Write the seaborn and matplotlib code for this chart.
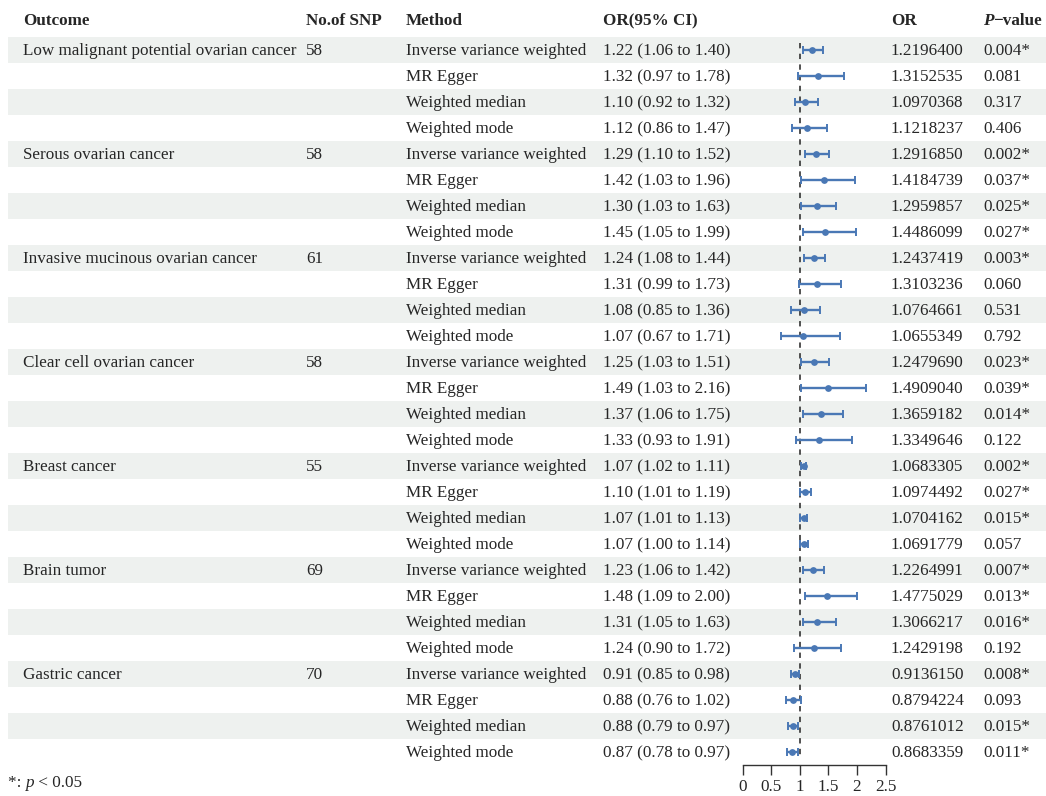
import matplotlib
matplotlib.use("Agg")
import matplotlib.pyplot as plt
import seaborn as sns
import pandas as pd

# ---- data -------------------------------------------------------------
outcomes = [
    "Low malignant potential ovarian cancer",
    "Serous ovarian cancer",
    "Invasive mucinous ovarian cancer",
    "Clear cell ovarian cancer",
    "Breast cancer",
    "Brain tumor",
    "Gastric cancer",
]
n_snp = [58, 58, 61, 58, 55, 69, 70]
methods = ["Inverse variance weighted", "MR Egger", "Weighted median", "Weighted mode"]

or_value = [
    1.2196400, 1.3152535, 1.0970368, 1.1218237,
    1.2916850, 1.4184739, 1.2959857, 1.4486099,
    1.2437419, 1.3103236, 1.0764661, 1.0655349,
    1.2479690, 1.4909040, 1.3659182, 1.3349646,
    1.0683305, 1.0974492, 1.0704162, 1.0691779,
    1.2264991, 1.4775029, 1.3066217, 1.2429198,
    0.9136150, 0.8794224, 0.8761012, 0.8683359,
]
ci_low = [
    1.06, 0.97, 0.92, 0.86,
    1.10, 1.03, 1.03, 1.05,
    1.08, 0.99, 0.85, 0.67,
    1.03, 1.03, 1.06, 0.93,
    1.02, 1.01, 1.01, 1.00,
    1.06, 1.09, 1.05, 0.90,
    0.85, 0.76, 0.79, 0.78,
]
ci_high = [
    1.40, 1.78, 1.32, 1.47,
    1.52, 1.96, 1.63, 1.99,
    1.44, 1.73, 1.36, 1.71,
    1.51, 2.16, 1.75, 1.91,
    1.11, 1.19, 1.13, 1.14,
    1.42, 2.00, 1.63, 1.72,
    0.98, 1.02, 0.97, 0.97,
]
p_value = [
    "0.004*", "0.081", "0.317", "0.406",
    "0.002*", "0.037*", "0.025*", "0.027*",
    "0.003*", "0.060", "0.531", "0.792",
    "0.023*", "0.039*", "0.014*", "0.122",
    "0.002*", "0.027*", "0.015*", "0.057",
    "0.007*", "0.013*", "0.016*", "0.192",
    "0.008*", "0.093", "0.015*", "0.011*",
]
x_ticks = [0, 0.5, 1, 1.5, 2, 2.5]
x_tick_labels = ["0", "0.5", "1", "1.5", "2", "2.5"]

# ---- long table --------------------------------------------------------
rows = []
k = 0
for outcome, snp in zip(outcomes, n_snp):
    for j, method in enumerate(methods):
        rows.append({
            "row": k,
            "Outcome": outcome if j == 0 else "",
            "SNP": str(snp) if j == 0 else "",
            "Method": method,
            "OR": or_value[k],
            "low": ci_low[k],
            "high": ci_high[k],
            "CI": f"{or_value[k]:.2f} ({ci_low[k]:.2f} to {ci_high[k]:.2f})",
            "ORtxt": f"{or_value[k]:.7f}",
            "P": p_value[k],
        })
        k += 1
df = pd.DataFrame(rows)

# ---- style -------------------------------------------------------------
sns.set_theme(style="white")
plt.rcParams["font.family"] = ["Liberation Serif", "DejaVu Serif"]
FS = 12.3
TXT = "#262626"
BLUE = "#4a78b5"
BAND = "#eef1ef"

W, H = 1046, 796
fig = plt.figure(figsize=(W / 100, H / 100), dpi=100)

# table layer in pixel units
tab = fig.add_axes([0, 0, 1, 1])
tab.set_xlim(0, W)
tab.set_ylim(H, 0)
tab.axis("off")

row_y0, row_h = 50, 26
col_x = {"Outcome": 23, "SNP": 306, "Method": 406, "CI": 603, "ORtxt": 891, "P": 983}

for _, r in df.iterrows():
    y = row_y0 + row_h * r["row"]
    if r["row"] % 2 == 0:
        tab.add_patch(plt.Rectangle((8, y - row_h / 2), W - 8, row_h,
                                    color=BAND, lw=0, zorder=0))
    for c, x in col_x.items():
        tab.text(x, y + 1, r[c], fontsize=FS, color=TXT, va="center", ha="left")

hy = 21
heads = {"Outcome": "Outcome", "SNP": "No.of SNP", "Method": "Method",
         "CI": "OR(95% CI)", "ORtxt": "OR"}
for c, label in heads.items():
    tab.text(col_x[c], hy, label, fontsize=FS, color=TXT, weight="bold",
             va="center", ha="left")
tp = tab.text(col_x["P"], hy, "P", fontsize=FS, color=TXT, weight="bold",
              style="italic", va="center", ha="left")
tab.annotate("\u2212value", xy=(1, 0), xycoords=tp, fontsize=FS, color=TXT,
             weight="bold", va="bottom", ha="left")

# footnote
t1 = tab.text(8, 783, "*: ", fontsize=FS, color=TXT, va="center", ha="left")
t2 = tab.annotate("p", xy=(1, 0), xycoords=t1, fontsize=FS, color=TXT,
                  style="italic", va="bottom", ha="left")
tab.annotate(" < 0.05", xy=(1, 0), xycoords=t2, fontsize=FS, color=TXT,
             va="bottom", ha="left")

# ---- forest panel ------------------------------------------------------
x0_px, x25_px = 742.5, 885.5
top_px, bot_px = 37, 765
ax = fig.add_axes([x0_px / W, 1 - bot_px / H, (x25_px - x0_px) / W, (bot_px - top_px) / H])
ax.patch.set_alpha(0)
ax.set_xlim(0, 2.5)
ax.set_ylim(len(df) - 0.5, -0.5)

ax.vlines(1, -0.27, len(df) - 0.8, colors="#222222", linestyles=(0, (3.5, 3.5)), lw=1.1, zorder=1)
ax.errorbar(df["OR"], df["row"],
            xerr=[df["OR"] - df["low"], df["high"] - df["OR"]],
            fmt="none", ecolor=BLUE, elinewidth=1.7, capsize=2.6, capthick=1.4, zorder=2)
sns.scatterplot(data=df, x="OR", y="row", ax=ax, color=BLUE, s=24,
                edgecolor=BLUE, linewidth=0, zorder=3, legend=False)

for s in ["top", "right", "left"]:
    ax.spines[s].set_visible(False)
ax.spines["bottom"].set_color("#333333")
ax.spines["bottom"].set_linewidth(1.0)
ax.set_yticks([])
ax.set_xticks(x_ticks)
ax.set_xticklabels(x_tick_labels)
ax.tick_params(axis="x", direction="out", length=7, width=1.0, color="#333333",
               labelsize=FS, labelcolor=TXT, pad=3, bottom=True)
ax.set_xlabel("")
ax.set_ylabel("")

fig.savefig("out.png", dpi=100)
